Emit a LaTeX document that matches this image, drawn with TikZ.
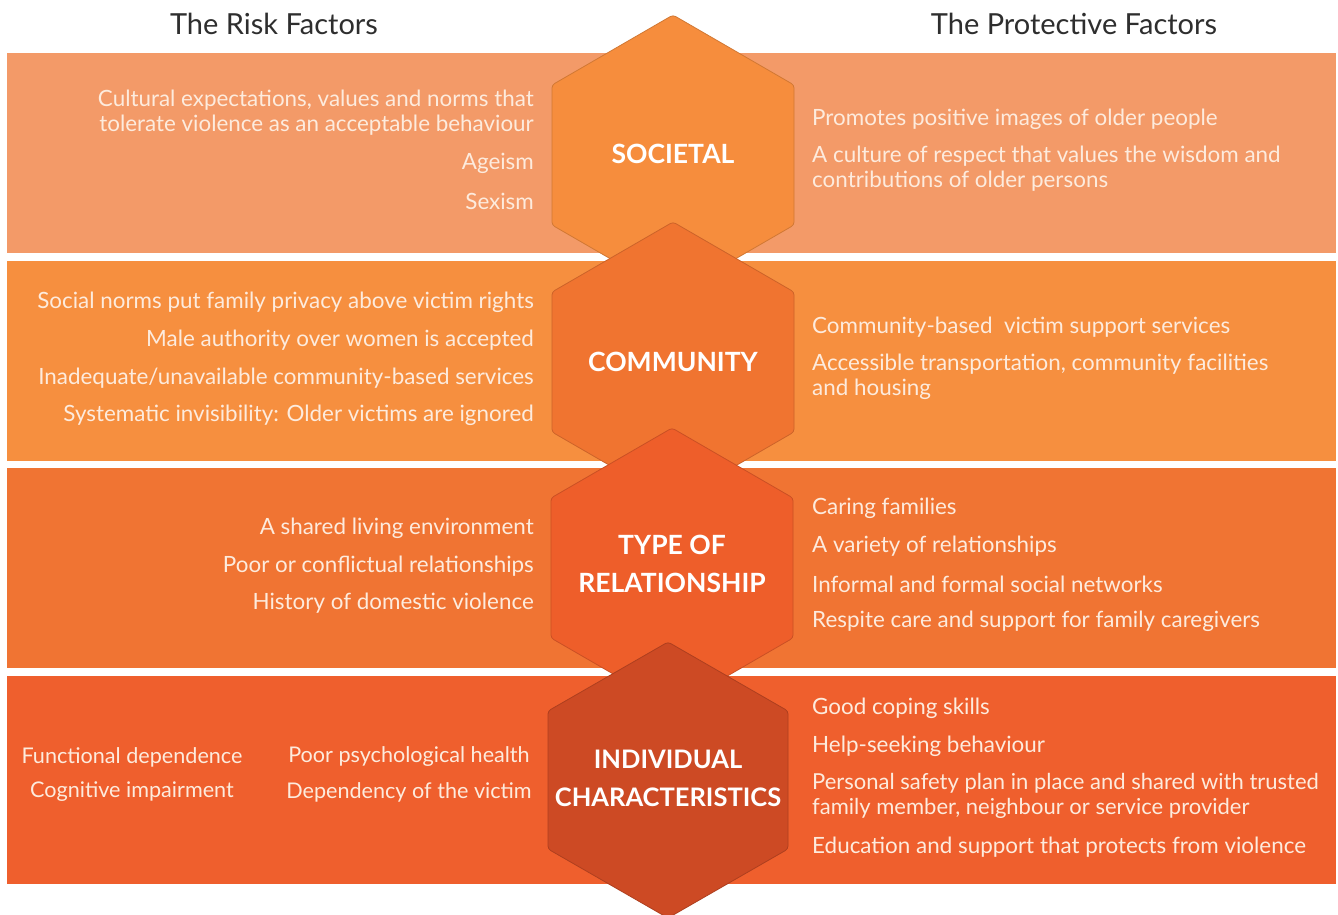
\documentclass[tikz,border=0pt]{standalone}
\usepackage{fontspec}
\setmainfont{Lato}
\definecolor{bandA}{HTML}{F39A68}
\definecolor{bandB}{HTML}{F68F3F}
\definecolor{bandC}{HTML}{F07433}
\definecolor{bandD}{HTML}{EF5F2D}
\definecolor{hexA}{HTML}{F68D3D}
\definecolor{hexB}{HTML}{F07430}
\definecolor{hexC}{HTML}{EE5E2A}
\definecolor{hexD}{HTML}{CD4A24}
\definecolor{itemtext}{HTML}{FDEBDD}
\definecolor{headtext}{HTML}{2E2E2E}
\tikzset{
  risk/.style={anchor=east, align=right, text=itemtext, inner sep=0pt,
    font=\fontsize{22.4}{25}\selectfont},
  protect/.style={anchor=west, align=left, text=itemtext, inner sep=0pt,
    font=\fontsize{22.4}{25}\selectfont},
  pair/.style={anchor=center, text=itemtext, inner sep=0pt,
    font=\fontsize{21.6}{25}\selectfont},
  level/.style={align=center, text=white, inner sep=0pt,
    font=\bfseries\fontsize{26.5}{38}\selectfont},
  heading/.style={text=headtext, inner sep=0pt, font=\fontsize{29}{32}\selectfont},
  hexfill/.style={fill=#1, draw=#1!85!black, line width=0.8pt, rounded corners=3pt}
}
\begin{document}
\begin{tikzpicture}[x=1pt,y=-1pt]
\useasboundingbox (0,0) rectangle (1338,915);
\fill[white] (0,0) rectangle (1338,915);

% bands
\fill[bandA] (7,53) rectangle (1336,253);
\fill[bandB] (7,261) rectangle (1336,461);
\fill[bandC] (7,468) rectangle (1336,668);
\fill[bandD] (7,676) rectangle (1336,884);

% hexagons
\filldraw[hexfill=hexA] (673,155) ++(0,-140) -- ++(121,70) -- ++(0,140) -- ++(-121,70) -- ++(-121,-70) -- ++(0,-140) -- cycle;
\filldraw[hexfill=hexB] (673,362) ++(0,-140) -- ++(121,70) -- ++(0,140) -- ++(-121,70) -- ++(-121,-70) -- ++(0,-140) -- cycle;
\filldraw[hexfill=hexC] (672,568) ++(0,-140) -- ++(121,70) -- ++(0,140) -- ++(-121,70) -- ++(-121,-70) -- ++(0,-140) -- cycle;
\filldraw[hexfill=hexD] (668,780) ++(0,-138) -- ++(120,69) -- ++(0,138) -- ++(-120,69) -- ++(-120,-69) -- ++(0,-138) -- cycle;

% headings
\node[heading] (riskhead) at (274,24) {The Risk Factors};
\node[heading] (prothead) at (1074,24) {The Protective Factors};

% level names
\node[level] (societal) at (673,154) {SOCIETAL};
\node[level] (community) at (673,362) {COMMUNITY};
\node[level] (relation) at (672,564) {TYPE OF\\RELATIONSHIP};
\node[level, font=\bfseries\fontsize{25.5}{38}\selectfont] (individual) at (668,778) {INDIVIDUAL\\CHARACTERISTICS};

% societal
\node[risk] (sr1) at (534,113) {Cultural expectations, values and norms that\\tolerate violence as an acceptable behaviour};
\node[risk] (sr2) at (534,163) {Ageism};
\node[risk] (sr3) at (534,201) {Sexism};
\node[protect] (sp1) at (812,119) {Promotes positive images of older people};
\node[protect] (sp2) at (812,169) {A culture of respect that values the wisdom and\\contributions of older persons};

% community
\node[risk] (cr1) at (534,302) {Social norms put family privacy above victim rights};
\node[risk] (cr2) at (534,340) {Male authority over women is accepted};
\node[risk] (cr3) at (534,378) {Inadequate/unavailable community-based services};
\node[risk] (cr4) at (534,415) {Systematic invisibility: Older victims are ignored};
\node[protect] (cp1) at (812,327) {Community-based\ \ victim support services};
\node[protect] (cp2) at (812,377) {Accessible transportation, community facilities\\and housing};

% type of relationship
\node[risk] (tr1) at (534,528) {A shared living environment};
\node[risk] (tr2) at (534,566) {Poor or conflictual relationships};
\node[risk] (tr3) at (534,603) {History of domestic violence};
\node[protect] (tp1) at (812,508) {Caring families};
\node[protect] (tp2) at (812,546) {A variety of relationships};
\node[protect] (tp3) at (812,584) {Informal and formal social networks};
\node[protect] (tp4) at (812,621) {Respite care and support for family caregivers};

% individual characteristics
\node[pair] (ir1) at (132,757) {Functional dependence};
\node[pair] (ir2) at (132,792) {Cognitive impairment};
\node[pair] (ir3) at (409,757) {Poor psychological health};
\node[pair] (ir4) at (409,792) {Dependency of the victim};
\node[protect] (ip1) at (812,708) {Good coping skills};
\node[protect] (ip2) at (812,746) {Help-seeking behaviour};
\node[protect, font=\fontsize{22}{25}\selectfont] (ip3) at (812,796) {Personal safety plan in place and shared with trusted\\family member, neighbour or service provider};
\node[protect] (ip4) at (812,847) {Education and support that protects from violence};
\end{tikzpicture}
\end{document}
